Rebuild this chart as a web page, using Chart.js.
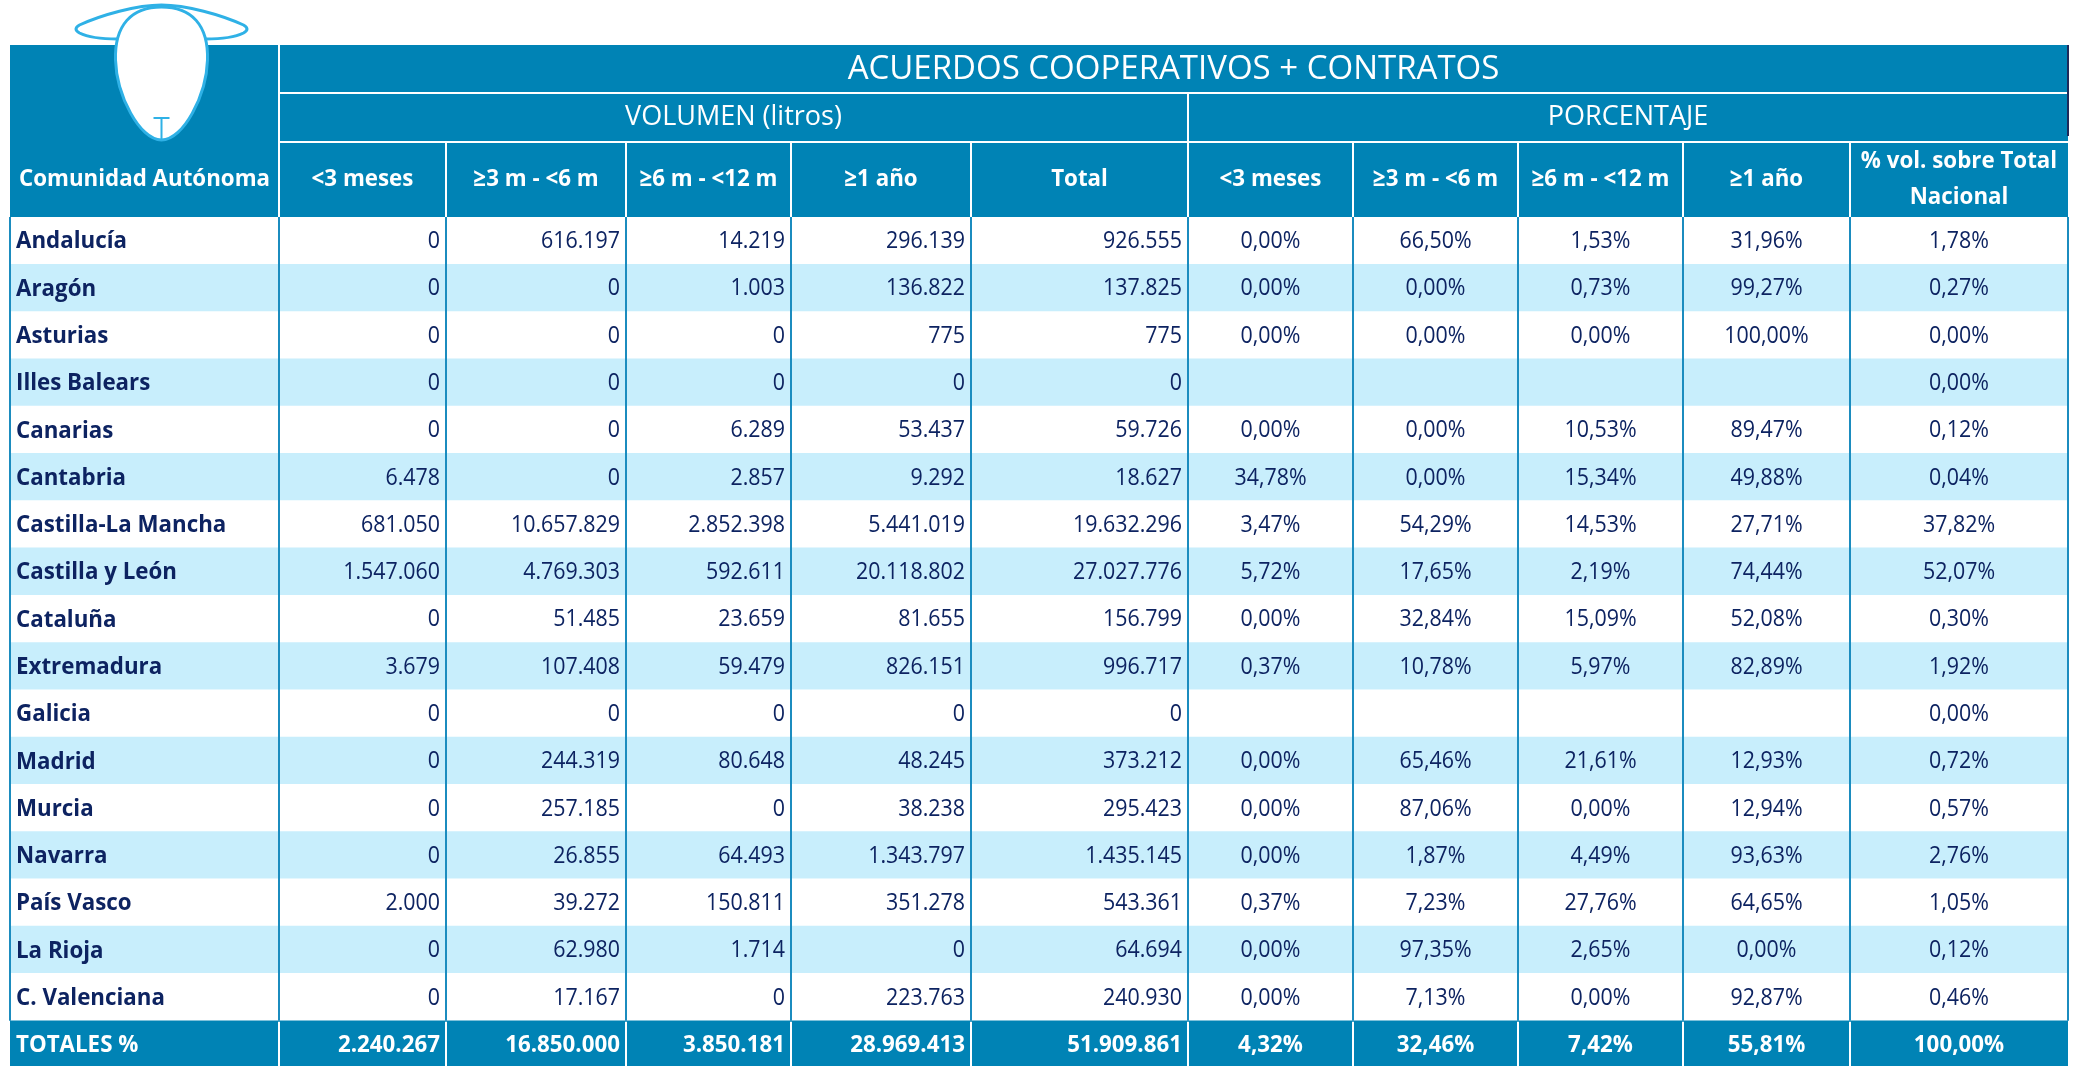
<!DOCTYPE html>
<html>
<head>
<meta charset="utf-8">
<script src="https://cdn.jsdelivr.net/npm/chart.js@4.4.1/dist/chart.umd.min.js"></script>
<style>
    html, body { margin: 0; padding: 0; background: #fff; overflow: hidden; }
    #wrap { position: relative; width: 2080px; height: 1068px; }
</style>
</head>
<body>
<div id="wrap"><canvas id="tabla"></canvas></div>
<script>
// Data
const regiones = ['Andalucía', 'Aragón', 'Asturias', 'Illes Balears', 'Canarias', 'Cantabria',
    'Castilla-La Mancha', 'Castilla y León', 'Cataluña', 'Extremadura', 'Galicia', 'Madrid',
    'Murcia', 'Navarra', 'País Vasco', 'La Rioja', 'C. Valenciana'];
const vol3 = [0, 0, 0, 0, 0, 6478, 681050, 1547060, 0, 3679, 0, 0, 0, 0, 2000, 0, 0];
const vol3a6 = [616197, 0, 0, 0, 0, 0, 10657829, 4769303, 51485, 107408, 0, 244319, 257185, 26855, 39272, 62980, 17167];
const vol6a12 = [14219, 1003, 0, 0, 6289, 2857, 2852398, 592611, 23659, 59479, 0, 80648, 0, 64493, 150811, 1714, 0];
const vol1ano = [296139, 136822, 775, 0, 53437, 9292, 5441019, 20118802, 81655, 826151, 0, 48245, 38238, 1343797, 351278, 0, 223763];
const volTotal = [926555, 137825, 775, 0, 59726, 18627, 19632296, 27027776, 156799, 996717, 0, 373212, 295423, 1435145, 543361, 64694, 240930];
const pct3 = [0.00, 0.00, 0.00, null, 0.00, 34.78, 3.47, 5.72, 0.00, 0.37, null, 0.00, 0.00, 0.00, 0.37, 0.00, 0.00];
const pct3a6 = [66.50, 0.00, 0.00, null, 0.00, 0.00, 54.29, 17.65, 32.84, 10.78, null, 65.46, 87.06, 1.87, 7.23, 97.35, 7.13];
const pct6a12 = [1.53, 0.73, 0.00, null, 10.53, 15.34, 14.53, 2.19, 15.09, 5.97, null, 21.61, 0.00, 4.49, 27.76, 2.65, 0.00];
const pct1ano = [31.96, 99.27, 100.00, null, 89.47, 49.88, 27.71, 74.44, 52.08, 82.89, null, 12.93, 12.94, 93.63, 64.65, 0.00, 92.87];
const pctNacional = [1.78, 0.27, 0.00, 0.00, 0.12, 0.04, 37.82, 52.07, 0.30, 1.92, 0.00, 0.72, 0.57, 2.76, 1.05, 0.12, 0.46];
const totalesVol = [2240267, 16850000, 3850181, 28969413, 51909861];
const totalesPct = [4.32, 32.46, 7.42, 55.81, 100.00];

const titulo = 'ACUERDOS COOPERATIVOS + CONTRATOS';
const grupos = ['VOLUMEN (litros)', 'PORCENTAJE'];
const columnas = ['Comunidad Autónoma', '<3 meses', '≥3 m - <6 m', '≥6 m - <12 m', '≥1 año', 'Total',
    '<3 meses', '≥3 m - <6 m', '≥6 m - <12 m', '≥1 año', ['% vol. sobre Total', 'Nacional']];

// Layout
const anchos = [269, 167, 180, 165, 180, 217, 165, 165, 165, 167, 218];
const cortes = [0];
anchos.forEach(a => cortes.push(cortes[cortes.length - 1] + a));
const headerY = [45, 93, 142];

const AZUL = '#0083b5';
const CELESTE = '#c8eefc';
const NAVY = '#0d2361';
const LINEA = '#1b8cbf';
const SX = 0.93;
const FONT = '"Open Sans", "Noto Sans", sans-serif';
const F_BOLD = 'bold 24px ' + FONT;
const F_NUM = '23px ' + FONT;

const filas = regiones.concat(['TOTALES %']);
const columnasDatos = [null, vol3, vol3a6, vol6a12, vol1ano, volTotal, pct3, pct3a6, pct6a12, pct1ano, pctNacional];

function fmtVol(n) {
    return String(n).replace(/\B(?=(\d{3})+(?!\d))/g, '.');
}
function fmtPct(p) {
    return p === null ? '' : p.toFixed(2).replace('.', ',') + '%';
}

function txt(ctx, s, x, y, align, font, color, sx = SX) {
    ctx.save();
    ctx.font = font;
    ctx.fillStyle = color;
    ctx.textBaseline = 'middle';
    ctx.textAlign = align;
    ctx.translate(x, y);
    ctx.scale(sx, 1);
    ctx.fillText(s, 0, 0);
    ctx.restore();
}

// sheep logo over the first header cell
function drawLogo(ctx, cx) {
    ctx.save();
    ctx.lineWidth = 3;
    ctx.lineJoin = 'round';
    ctx.strokeStyle = '#2fb1e6';
    ctx.fillStyle = '#fff';
    // ears
    ctx.beginPath();
    ctx.moveTo(cx - 82, 25);
    ctx.bezierCurveTo(cx - 60, 15, cx - 25, 5, cx, 5);
    ctx.bezierCurveTo(cx + 25, 5, cx + 60, 15, cx + 82, 25);
    ctx.quadraticCurveTo(cx + 89, 29, cx + 82, 33);
    ctx.bezierCurveTo(cx + 74, 37, cx + 60, 39, cx + 44, 39);
    ctx.lineTo(cx - 44, 39);
    ctx.bezierCurveTo(cx - 60, 39, cx - 74, 37, cx - 82, 33);
    ctx.quadraticCurveTo(cx - 89, 29, cx - 82, 25);
    ctx.closePath();
    ctx.fill();
    ctx.stroke();
    // head
    ctx.beginPath();
    ctx.moveTo(cx, 7);
    ctx.bezierCurveTo(cx - 30, 7, cx - 47, 25, cx - 46, 60);
    ctx.bezierCurveTo(cx - 45, 95, cx - 22, 140, cx, 140);
    ctx.bezierCurveTo(cx + 22, 140, cx + 45, 95, cx + 46, 60);
    ctx.bezierCurveTo(cx + 47, 25, cx + 30, 7, cx, 7);
    ctx.closePath();
    ctx.fill();
    ctx.stroke();
    // nose
    ctx.lineWidth = 2;
    ctx.beginPath();
    ctx.moveTo(cx - 8, 118);
    ctx.lineTo(cx + 8, 118);
    ctx.moveTo(cx, 118);
    ctx.lineTo(cx, 139);
    ctx.stroke();
    ctx.restore();
}

const tablaPlugin = {
    id: 'tabla',
    beforeDatasetsDraw(chart) {
        const ctx = chart.ctx;
        const x = chart.scales.x;
        const xs = cortes.map(c => x.getPixelForValue(c));
        const top = chart.chartArea.top;
        const left = xs[0], right = xs[xs.length - 1];

        // header background
        ctx.save();
        ctx.fillStyle = AZUL;
        ctx.fillRect(left, headerY[0], right - left, top - headerY[0]);

        // white separators
        ctx.strokeStyle = '#fff';
        ctx.lineWidth = 2;
        ctx.beginPath();
        ctx.moveTo(xs[1], headerY[0]); ctx.lineTo(xs[1], top);
        ctx.moveTo(xs[1], headerY[1]); ctx.lineTo(right, headerY[1]);
        ctx.moveTo(xs[1], headerY[2]); ctx.lineTo(right, headerY[2]);
        ctx.moveTo(xs[6], headerY[1]); ctx.lineTo(xs[6], top);
        for (let i = 2; i < xs.length - 1; i++) {
            ctx.moveTo(xs[i], headerY[2]); ctx.lineTo(xs[i], top);
        }
        ctx.stroke();
        ctx.strokeStyle = '#1f2a5a';
        ctx.lineWidth = 2;
        ctx.beginPath();
        ctx.moveTo(right, headerY[0]); ctx.lineTo(right, headerY[2] - 6);
        ctx.stroke();
        ctx.restore();

        // header text
        txt(ctx, titulo, (xs[1] + right) / 2, (headerY[0] + headerY[1]) / 2 + 1, 'center', '33px ' + FONT, '#fff', 1);
        txt(ctx, grupos[0], (xs[1] + xs[6]) / 2, (headerY[1] + headerY[2]) / 2, 'center', '27px ' + FONT, '#fff', 1);
        txt(ctx, grupos[1], (xs[6] + right) / 2, (headerY[1] + headerY[2]) / 2, 'center', '27px ' + FONT, '#fff', 1);
        const yc = (headerY[2] + top) / 2;
        columnas.forEach((c, i) => {
            const cx = (xs[i] + xs[i + 1]) / 2;
            if (Array.isArray(c)) {
                txt(ctx, c[0], cx, yc - 18, 'center', F_BOLD, '#fff');
                txt(ctx, c[1], cx, yc + 18, 'center', F_BOLD, '#fff');
            } else {
                txt(ctx, c, cx, yc, 'center', F_BOLD, '#fff');
            }
        });
    },
    afterDatasetsDraw(chart) {
        const ctx = chart.ctx;
        const xs = cortes.map(c => chart.scales.x.getPixelForValue(c));
        const area = chart.chartArea;
        const nData = regiones.length;
        const rowBottom = chart.getDatasetMeta(0).data[nData - 1];
        const dataBottom = rowBottom.y + rowBottom.height / 2;

        // column lines
        ctx.save();
        ctx.strokeStyle = LINEA;
        ctx.lineWidth = 2;
        ctx.beginPath();
        xs.forEach(px => { ctx.moveTo(px, area.top); ctx.lineTo(px, dataBottom); });
        ctx.stroke();
        ctx.strokeStyle = '#fff';
        ctx.beginPath();
        for (let i = 1; i < xs.length - 1; i++) {
            ctx.moveTo(xs[i], dataBottom + 1); ctx.lineTo(xs[i], area.bottom);
        }
        ctx.stroke();
        ctx.restore();

        // cell text
        filas.forEach((fila, r) => {
            const total = r === nData;
            const color = total ? '#fff' : NAVY;
            const numFont = total ? F_BOLD : F_NUM;
            for (let c = 0; c < anchos.length; c++) {
                const el = chart.getDatasetMeta(c).data[r];
                const l = Math.min(el.x, el.base), rt = Math.max(el.x, el.base);
                const y = el.y + 1;
                if (c === 0) {
                    txt(ctx, fila, l + 6, y, 'left', F_BOLD, color);
                } else if (c <= 5) {
                    const v = total ? totalesVol[c - 1] : columnasDatos[c][r];
                    txt(ctx, fmtVol(v), rt - 6, y, 'right', numFont, color);
                } else {
                    const v = total ? totalesPct[c - 6] : columnasDatos[c][r];
                    txt(ctx, fmtPct(v), (l + rt) / 2, y, 'center', numFont, color);
                }
            }
        });

        drawLogo(ctx, (xs[0] + xs[1]) / 2 + 17);
    }
};

const datasets = anchos.map((a, i) => ({
    label: 'col' + i,
    data: filas.map(() => [cortes[i], cortes[i + 1]]),
    backgroundColor: c => c.dataIndex === regiones.length ? AZUL : (c.dataIndex % 2 ? CELESTE : '#ffffff'),
    borderWidth: 0,
    barPercentage: 1,
    categoryPercentage: 1,
    grouped: false
}));

new Chart(document.getElementById('tabla'), {
    type: 'bar',
    data: { labels: filas, datasets: datasets },
    options: {
        indexAxis: 'y',
        responsive: true,
        maintainAspectRatio: false,
        animation: false,
        events: [],
        layout: { padding: { left: 10, right: 12, top: 217, bottom: 0 } },
        plugins: { legend: { display: false }, tooltip: { enabled: false } },
        scales: {
            x: { type: 'linear', min: 0, max: cortes[cortes.length - 1], display: false },
            y: { display: false }
        }
    },
    plugins: [tablaPlugin]
});
</script>
</body>
</html>
